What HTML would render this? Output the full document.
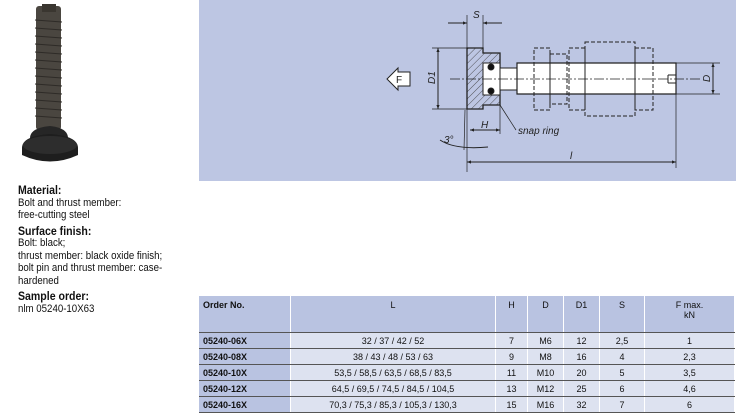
<!DOCTYPE html>
<html><head><style>
body{margin:0;width:736px;height:417px;background:#fff;font-family:"Liberation Sans",sans-serif;position:relative;overflow:hidden}
.txt{position:absolute;left:18px;font-size:11px;line-height:12.5px;color:#111;transform:scaleX(0.88);transform-origin:left top;width:220px}
.txt b{display:block;font-size:12px;margin-top:3px}
table{position:absolute;left:199px;top:295px;border-collapse:collapse;font-size:9px;color:#111}
td{border:1px solid #fff;border-left:1.5px solid #555;height:15px;padding:0;text-align:center;background:#dde2f0}
td:first-child{border-left:none;text-align:left;padding-left:4px;font-weight:bold;background:#b9c3e1}
tr.h td{background:#b9c3e1;height:32px;vertical-align:top;padding-top:4px;font-weight:normal}
tr.h td:first-child{font-weight:bold}
tr td{border-bottom:1.5px solid #555}
</style></head><body>
<svg width="736" height="417" style="position:absolute;left:0;top:0">
<defs>
<pattern id="hat" width="5" height="5" patternUnits="userSpaceOnUse" patternTransform="rotate(45)"><line x1="0" y1="0" x2="0" y2="5" stroke="#333" stroke-width="0.8"/></pattern>
<marker id="a" viewBox="0 0 10 10" refX="10" refY="5" markerWidth="6" markerHeight="4" orient="auto-start-reverse"><path d="M0,1 L10,5 L0,9z" fill="#222"/></marker>
</defs>
<rect x="199" y="0" width="537" height="181" fill="#bdc6e3"/>
<rect x="36" y="6" width="25" height="124" rx="3" fill="#4a4640"/>
<g stroke="#2e2b27" stroke-width="1">
<line x1="35" y1="20" x2="62" y2="22"/><line x1="35" y1="28" x2="62" y2="30"/><line x1="35" y1="36" x2="62" y2="38"/><line x1="35" y1="44" x2="62" y2="46"/><line x1="35" y1="52" x2="62" y2="54"/><line x1="35" y1="60" x2="62" y2="62"/><line x1="35" y1="68" x2="62" y2="70"/><line x1="35" y1="76" x2="62" y2="78"/><line x1="35" y1="84" x2="62" y2="86"/><line x1="35" y1="92" x2="62" y2="94"/><line x1="35" y1="100" x2="62" y2="102"/><line x1="35" y1="108" x2="62" y2="110"/><line x1="35" y1="116" x2="62" y2="118"/></g>
<rect x="42" y="4" width="14" height="8" fill="#3a3630"/>
<path d="M30,138 Q30,128 50,126 Q68,128 68,138z" fill="#262626"/>
<path d="M22,148 Q22,136 50,134 Q78,136 78,148 L78,155 Q50,168 22,155z" fill="#1e1e1e"/>
<ellipse cx="50" cy="145" rx="27" ry="9" fill="#2d2d2d"/>
<g stroke="#222" stroke-width="1" fill="none">
<path d="M467,48 H483 V53 H500 V105 H483 V109 H467z" fill="url(#hat)" stroke-width="1.3"/>
<rect x="483" y="63" width="17" height="32" fill="#fff" stroke-width="1"/>
<circle cx="491" cy="67" r="3" fill="#111"/><circle cx="491" cy="91" r="3" fill="#111"/>
<rect x="500" y="68" width="17" height="22" fill="#fff"/>
<path d="M517,63 H676 V94 H517z" fill="#fff" stroke-width="1.2"/>
<line x1="668" y1="75" x2="676" y2="75"/><line x1="668" y1="83" x2="676" y2="83"/><line x1="668" y1="75" x2="668" y2="83"/>
<g stroke-dasharray="4,2"><rect x="534" y="48" width="16" height="62"/><rect x="550" y="54" width="17" height="50"/><rect x="569" y="48" width="16" height="62"/><rect x="585" y="42" width="50" height="74"/><rect x="635" y="48" width="18" height="62"/></g>
<line x1="450" y1="79" x2="700" y2="79" stroke-dasharray="10,2,2,2" stroke-width="0.7"/>
<line x1="467" y1="15" x2="467" y2="172" stroke-width="0.7"/><line x1="483" y1="15" x2="483" y2="48" stroke-width="0.7"/>
<line x1="448" y1="23" x2="467" y2="23" marker-end="url(#a)"/><line x1="502" y1="23" x2="483" y2="23" marker-end="url(#a)"/>
<line x1="432" y1="48" x2="467" y2="48" stroke-width="0.7"/><line x1="432" y1="109" x2="467" y2="109" stroke-width="0.7"/>
<line x1="438" y1="48" x2="438" y2="109" marker-start="url(#a)" marker-end="url(#a)"/>
<line x1="676" y1="63" x2="720" y2="63" stroke-width="0.7"/><line x1="676" y1="94" x2="720" y2="94" stroke-width="0.7"/>
<line x1="713" y1="63" x2="713" y2="94" marker-start="url(#a)" marker-end="url(#a)"/>
<line x1="676" y1="94" x2="676" y2="168" stroke-width="0.7"/>
<line x1="467" y1="162" x2="676" y2="162" marker-start="url(#a)" marker-end="url(#a)"/>
<line x1="500" y1="105" x2="500" y2="134" stroke-width="0.7"/>
<line x1="470" y1="130" x2="500" y2="130" marker-start="url(#a)" marker-end="url(#a)"/>
<line x1="500" y1="105" x2="516" y2="130" stroke-width="0.7"/>
<path d="M440,140 Q455,150 488,147" /><line x1="465" y1="110" x2="464" y2="150" stroke-width="0.7"/>
<path d="M410,72 H398 V68 L387,79 L398,90 V86 H410z" fill="#fff"/>
</g>
<g font-family="Liberation Sans" font-style="italic" font-size="10" fill="#222">
<text x="473" y="18">S</text><text x="396" y="83" font-style="normal">F</text>
<text x="435" y="84" transform="rotate(-90 435 84)">D1</text>
<text x="710" y="82" transform="rotate(-90 710 82)">D</text>
<text x="481" y="128">H</text><text x="518" y="134">snap ring</text>
<text x="570" y="159">l</text><text x="444" y="143">3°</text>
</g>
</svg>
<div class="txt" style="top:184px">
<b style="margin-top:0">Material:</b>Bolt and thrust member:<br>free-cutting steel
<b>Surface finish:</b>Bolt: black;<br>thrust member: black oxide finish;<br>bolt pin and thrust member: case-<br>hardened
<b>Sample order:</b>nlm 05240-10X63
</div>
<table>
<tr class="h"><td style="width:87px">Order No.</td><td style="width:204px">L</td><td style="width:31px">H</td><td style="width:35px">D</td><td style="width:35px">D1</td><td style="width:44px">S</td><td style="width:89px">F max.<br>kN</td></tr>
<tr><td>05240-06X</td><td>32 / 37 / 42 / 52</td><td>7</td><td>M6</td><td>12</td><td>2,5</td><td>1</td></tr>
<tr><td>05240-08X</td><td>38 / 43 / 48 / 53 / 63</td><td>9</td><td>M8</td><td>16</td><td>4</td><td>2,3</td></tr>
<tr><td>05240-10X</td><td>53,5 / 58,5 / 63,5 / 68,5 / 83,5</td><td>11</td><td>M10</td><td>20</td><td>5</td><td>3,5</td></tr>
<tr><td>05240-12X</td><td>64,5 / 69,5 / 74,5 / 84,5 / 104,5</td><td>13</td><td>M12</td><td>25</td><td>6</td><td>4,6</td></tr>
<tr><td>05240-16X</td><td>70,3 / 75,3 / 85,3 / 105,3 / 130,3</td><td>15</td><td>M16</td><td>32</td><td>7</td><td>6</td></tr>
</table>
</body></html>
